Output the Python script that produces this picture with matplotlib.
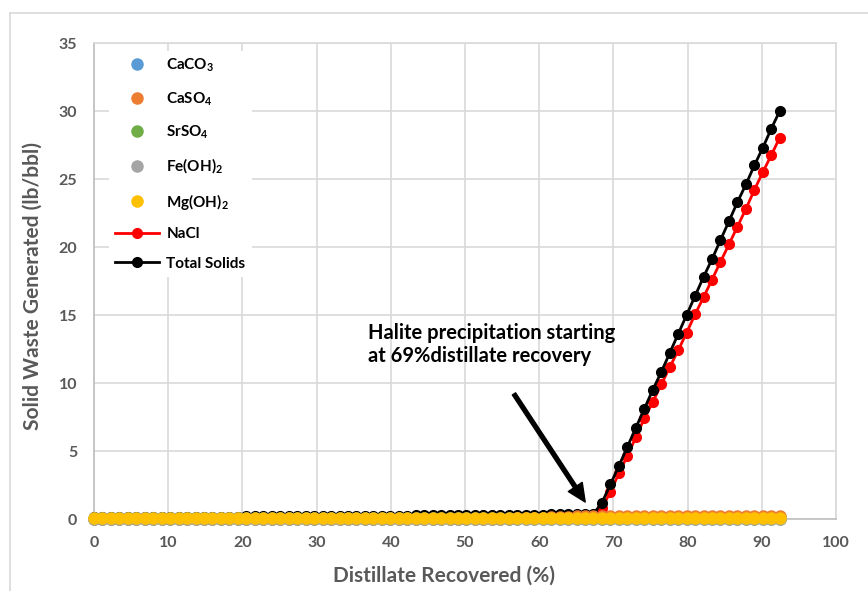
import matplotlib
matplotlib.use("Agg")
import matplotlib.pyplot as plt
from matplotlib.lines import Line2D

plt.rcParams['font.family'] = ['Lato', 'DejaVu Sans']
plt.rcParams['mathtext.fontset'] = 'custom'
plt.rcParams['mathtext.bf'] = 'Lato:bold'
plt.rcParams['mathtext.rm'] = 'Lato:bold'

# distillate recovered (%)
recovery = [0.00, 1.14, 2.28, 3.42, 4.56, 5.71, 6.85, 7.99, 9.13, 10.27,
            11.41, 12.55, 13.69, 14.83, 15.97, 17.12, 18.26, 19.40, 20.54, 21.68,
            22.82, 23.96, 25.10, 26.24, 27.38, 28.53, 29.67, 30.81, 31.95, 33.09,
            34.23, 35.37, 36.51, 37.65, 38.79, 39.94, 41.08, 42.22, 43.36, 44.50,
            45.64, 46.78, 47.92, 49.06, 50.20, 51.35, 52.49, 53.63, 54.77, 55.91,
            57.05, 58.19, 59.33, 60.47, 61.61, 62.76, 63.90, 65.04, 66.18, 67.32,
            68.46, 69.60, 70.74, 71.88, 73.02, 74.17, 75.31, 76.45, 77.59, 78.73,
            79.87, 81.01, 82.15, 83.29, 84.43, 85.58, 86.72, 87.86, 89.00, 90.14,
            91.28, 92.42]

caco3 = [0.10] * 82
caso4 = [0.03] * 50 + [0.05, 0.07, 0.09, 0.11, 0.13, 0.15, 0.17, 0.19, 0.20, 0.21] + [0.22] * 22
srso4 = [0.0] * 82
feoh2 = [0.0] * 82
mgoh2 = [0.04] * 82

# NaCl only from 69% on
nacl_x = recovery[60:]
nacl = [0.8, 2.0, 3.35, 4.65, 6.0, 7.4, 8.6, 9.9, 11.15, 12.4, 13.7,
        15.05, 16.3, 17.6, 18.9, 20.2, 21.5, 22.8, 24.2, 25.5, 26.75, 28.05]

total = [0.15, 0.15, 0.15, 0.15, 0.16, 0.16, 0.16, 0.16, 0.16, 0.17,
         0.17, 0.17, 0.17, 0.17, 0.18, 0.18, 0.18, 0.18, 0.19, 0.19,
         0.19, 0.19, 0.20, 0.20, 0.20, 0.21, 0.21, 0.21, 0.22, 0.22,
         0.22, 0.23, 0.23, 0.23, 0.24, 0.24, 0.25, 0.25, 0.26, 0.26,
         0.27, 0.27, 0.28, 0.28, 0.29, 0.29, 0.30, 0.30, 0.31, 0.31,
         0.32, 0.32, 0.33, 0.33, 0.34, 0.34, 0.35, 0.35, 0.36, 0.37,
         1.2, 2.55, 3.9, 5.3, 6.7, 8.1, 9.5, 10.8, 12.2, 13.6, 15.0,
         16.4, 17.8, 19.1, 20.5, 21.9, 23.3, 24.6, 26.0, 27.3, 28.7, 30.0]

gray = '#595959'
grid = '#d9d9d9'

fig = plt.figure(figsize=(8.68, 5.91), dpi=100)
ax = fig.add_axes([0.1083, 0.1218, 0.8548, 0.8054])

# chart area border (left and top visible)
fig.add_artist(Line2D([10 / 868, 10 / 868], [0, 1 - 13 / 591], transform=fig.transFigure, color=grid, lw=1.2))
fig.add_artist(Line2D([10 / 868, 1], [1 - 13 / 591, 1 - 13 / 591], transform=fig.transFigure, color=grid, lw=1.2))

ax.plot(nacl_x, nacl, '-o', color='#ff0000', ms=7, lw=2, zorder=3, clip_on=False, label='NaCl')
ax.plot(recovery, total, '-o', color='black', ms=7, lw=2, zorder=4, clip_on=False, label='Total Solids')

series = [(caco3, '#5B9BD5', 'CaCO$_\\mathbf{3}$'),
          (caso4, '#ED7D31', 'CaSO$_\\mathbf{4}$'),
          (srso4, '#70AD47', 'SrSO$_\\mathbf{4}$'),
          (feoh2, '#A5A5A5', 'Fe(OH)$_\\mathbf{2}$'),
          (mgoh2, '#FFC000', 'Mg(OH)$_\\mathbf{2}$')]
for i, (vals, c, lab) in enumerate(series):
    ax.plot(recovery, vals, 'o', color=c, ms=8, zorder=5 + i, clip_on=False, label=lab)

ax.set_xlim(0, 100)
ax.set_ylim(0, 35)
ax.set_xticks(range(0, 101, 10))
ax.set_yticks(range(0, 36, 5))
ax.grid(True, color=grid, lw=1.2)
ax.set_axisbelow(True)
ax.tick_params(length=0, labelsize=11.5, labelcolor=gray, pad=12)
for lab in ax.get_xticklabels() + ax.get_yticklabels():
    lab.set_fontweight('bold')
for s in ['top', 'right']:
    ax.spines[s].set_color(grid)
    ax.spines[s].set_linewidth(1.2)
for s in ['left', 'bottom']:
    ax.spines[s].set_color('#bfbfbf')
    ax.spines[s].set_linewidth(1.2)

ax.set_xlabel('Distillate Recovered (%)', fontsize=15, fontweight='bold', color=gray)
ax.xaxis.set_label_coords(0.472, -0.098)
ax.set_ylabel('Solid Waste Generated (lb/bbl)', fontsize=15, fontweight='bold', color=gray)
ax.yaxis.set_label_coords(-0.069, 0.49)

handles, labels = ax.get_legend_handles_labels()
order = [2, 3, 4, 5, 6, 0, 1]
leg = ax.legend([handles[i] for i in order], [labels[i] for i in order],
                loc='upper left', bbox_to_anchor=(0.01, 1.0), frameon=True,
                facecolor='white', edgecolor='none', framealpha=1,
                handlelength=2.9, labelspacing=1.02, handletextpad=0.45,
                prop={'weight': 'bold', 'size': 11})
leg.set_zorder(20)

ax.annotate('', xy=(66.2, 1.25), xytext=(56.6, 9.2),
            arrowprops=dict(facecolor='black', edgecolor='black', width=2.8, headwidth=12, headlength=13),
            zorder=15)
ax.text(36.9, 14.4, 'Halite precipitation starting\nat 69%distillate recovery',
        fontsize=14.5, fontweight='bold', color='black', va='top', linespacing=1.15)

fig.savefig('out.png', dpi=100)
